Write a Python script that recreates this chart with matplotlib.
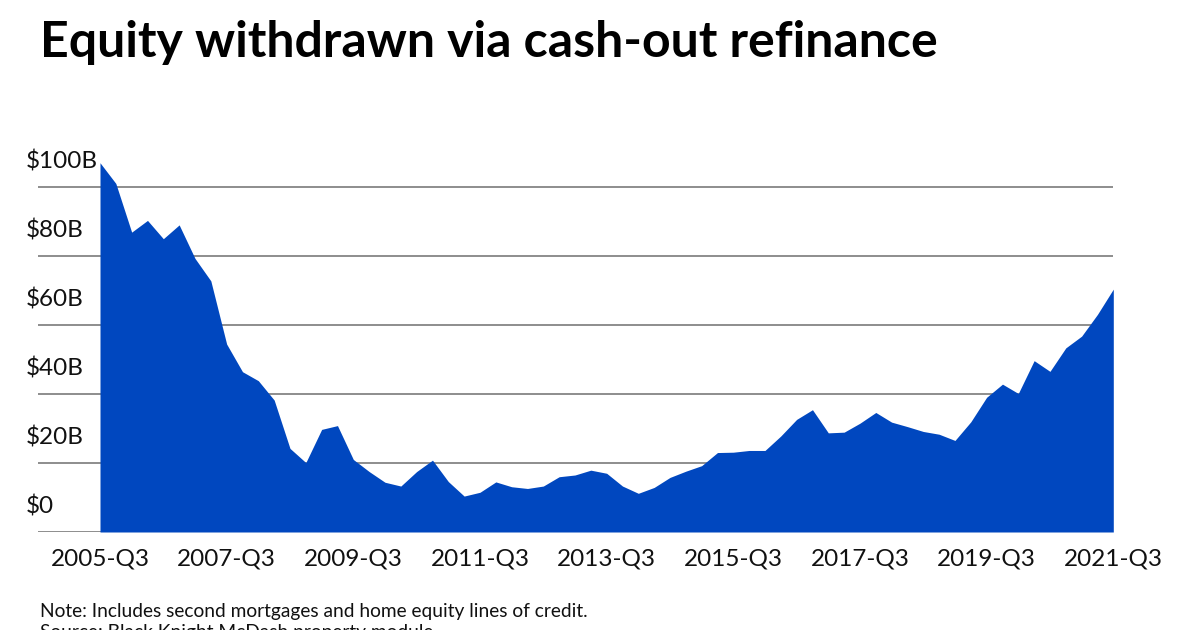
import matplotlib
matplotlib.use('Agg')
import matplotlib.pyplot as plt
import numpy as np
from matplotlib import transforms

plt.rcParams['font.family'] = ['Lato', 'DejaVu Sans']

# === 数据：季度现金再融资提取的房屋净值（十亿美元）===
years = list(range(2005, 2022))
quarters = [f'{y}-Q{q}' for y in years for q in (1, 2, 3, 4)]
quarters = quarters[2:quarters.index('2021-Q3') + 1]   # 2005-Q3 .. 2021-Q3

equity_b = [
    106.9, 100.9, 86.8, 90.2, 84.9, 88.9, 79.2, 72.7,   # 2005-Q3 ..
    54.4, 46.4, 43.8, 38.2, 24.2, 20.1, 29.7, 30.8,     # 2007-Q3 ..
    21.0, 17.5, 14.4, 13.3, 17.5, 20.8, 14.6, 10.4,     # 2009-Q3 ..
    11.5, 14.5, 13.1, 12.6, 13.3, 16.0, 16.5, 17.9,     # 2011-Q3 ..
    17.0, 13.3, 11.2, 12.9, 15.8, 17.6, 19.2, 23.0,     # 2013-Q3 ..
    23.1, 23.6, 23.6, 27.8, 32.6, 35.4, 28.7, 28.9,     # 2015-Q3 ..
    31.5, 34.6, 31.8, 30.5, 29.1, 28.3, 26.5, 31.9,     # 2017-Q3 ..
    39.0, 42.8, 40.1, 49.6, 46.5, 53.3, 56.7, 63.0,     # 2019-Q3 ..
    70.3,                                               # 2021-Q3
]

y_ticks = [0, 20, 40, 60, 80, 100]
y_tick_labels = ['$0', '$20B', '$40B', '$60B', '$80B', '$100B']
tick_every = 8

title = 'Equity withdrawn via cash-out refinance'
note = 'Note: Includes second mortgages and home equity lines of credit.'
source = 'Source: Black Knight McDash property module'

# === 画布 ===
W, H = 1200, 630
fig = plt.figure(figsize=(W / 100, H / 100), dpi=100)

x = np.arange(len(equity_b))
px_per_q = (1113.3 - 100) / (len(x) - 1)
x_left = -(100 - 38) / px_per_q          # 网格线从 x=38px 开始

ax = fig.add_axes([38 / W, 98 / H, (1113.3 - 38) / W, 380 / H])
ax.set_xlim(x_left, x[-1])
ax.set_ylim(0, 110)

# 网格线（在面积图下方）
for yv in y_ticks:
    ax.axhline(yv, color='#6f6f6f', linewidth=1.1, zorder=1)

ax.fill_between(x, 0, equity_b, color='#0047BF', linewidth=0, zorder=2)

for s in ax.spines.values():
    s.set_visible(False)

# x 轴刻度
tick_idx = x[::tick_every]
ax.set_xticks(tick_idx)
ax.set_xticklabels([quarters[i] for i in tick_idx], fontsize=17.5, color='#111111')
ax.tick_params(axis='x', length=0, pad=12)
ax.set_yticks([])

# y 轴标签放在网格线上方
offset = transforms.ScaledTranslation(0, 25 / 100, fig.dpi_scale_trans)
lbl_tf = transforms.blended_transform_factory(ax.transAxes, ax.transData) + offset
for yv, lab in zip(y_ticks, y_tick_labels):
    ax.text((26 - 38) / (1113.3 - 38), yv, lab, transform=lbl_tf,
            ha='left', va='center', fontsize=17.5, color='#111111', clip_on=False)

# 标题与脚注（Source 一行在原图底部被裁切）
fig.text(40 / W, 1 - 57 / H, title, fontsize=36, fontweight='bold',
         ha='left', va='baseline', color='#000000')
fig.text(40 / W, 1 - 616.7 / H, note, fontsize=13.8, ha='left', va='baseline', color='#111111')
fig.text(40 / W, 1 - 638.4 / H, source, fontsize=13.8, ha='left', va='baseline', color='#111111')

fig.savefig('out.png', dpi=100)
